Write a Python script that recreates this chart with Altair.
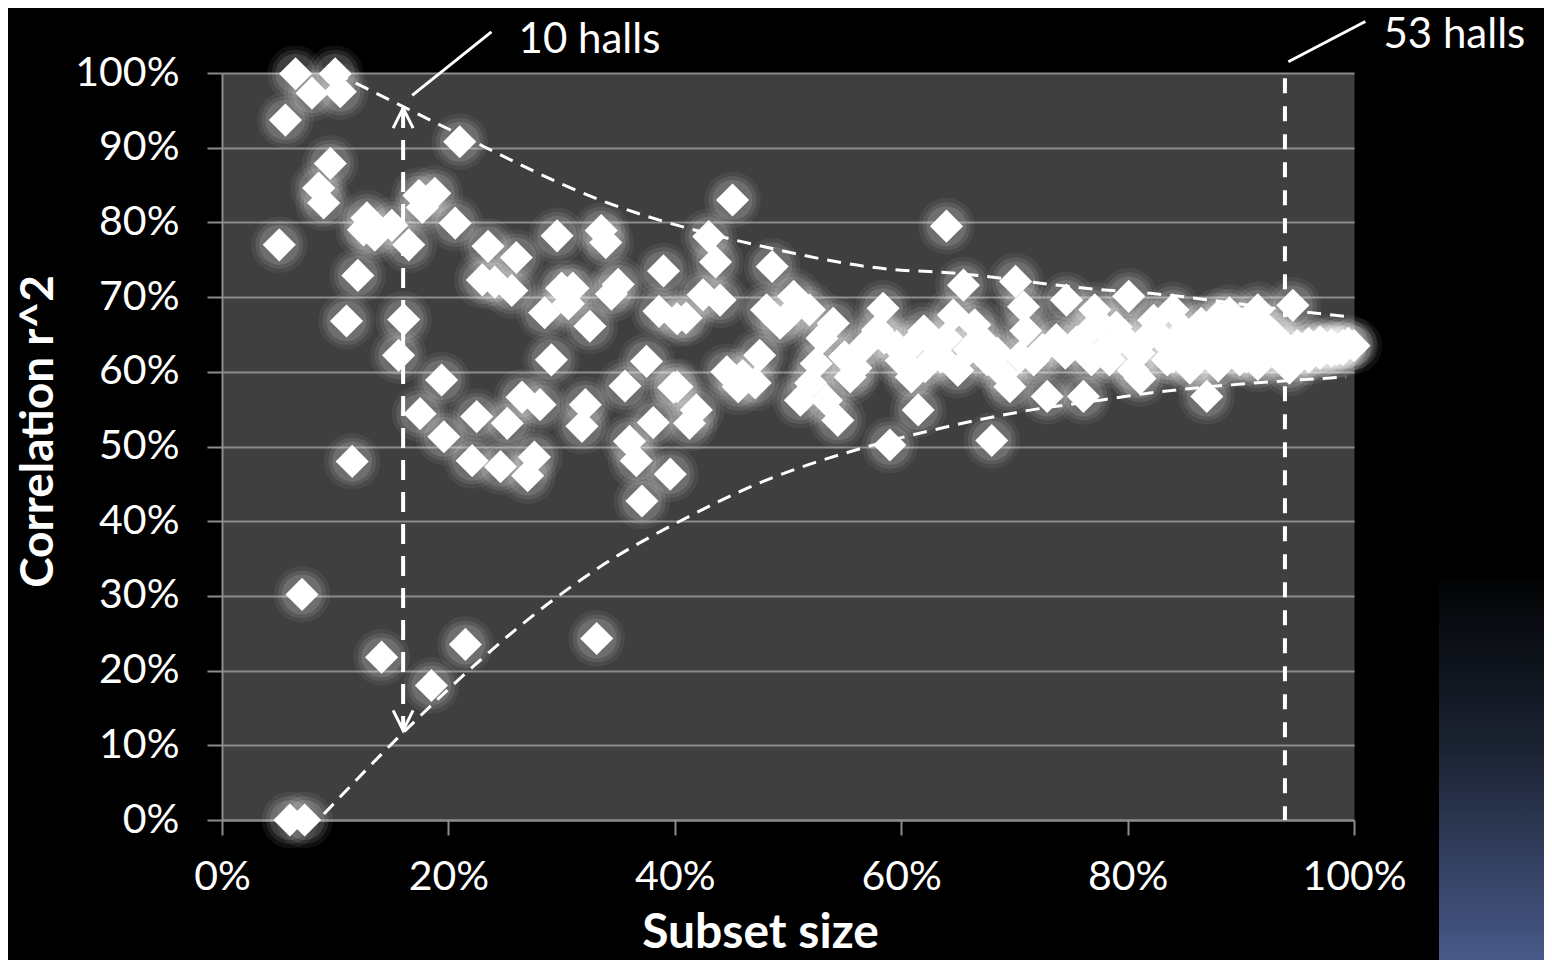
import altair as alt
import pandas as pd

# ---- scatter points: subset size (%) and correlation r^2 (%) ----
subset_pct = [
    6.5, 7.95, 10.0, 10.45, 5.6, 9.57, 8.54, 8.98, 5.06, 12.8, 12.5, 13.5, 15.0, 16.5,
    17.4, 18.8, 17.7, 12.0, 11.0, 16.05, 15.6, 19.4, 17.5, 19.6, 11.5, 7.07, 14.1, 18.5,
    6.0, 7.3,
    21.0, 20.6, 23.5, 26.0, 24.1, 25.6, 23.0, 29.6, 33.5, 33.9, 30.0, 31.0, 30.6, 28.5,
    32.5, 35.0, 34.4, 39.0, 38.6, 40.2, 29.1, 22.5, 25.2, 26.5, 28.1, 32.1, 31.8, 22.1,
    24.6, 27.6, 27.0, 37.5, 35.6, 39.9, 38.1, 36.0, 36.6, 39.6, 37.1, 21.5, 33.1,
    45.1, 43.0, 43.6, 48.6, 42.5, 44.0, 41.0, 48.1, 50.5, 49.3, 51.9, 54.0, 53.0, 52.5,
    58.4, 57.9, 56.7, 55.5, 59.6, 60.9, 47.5, 44.6, 47.1, 45.6, 40.2, 41.9, 41.3, 51.1,
    53.4, 54.4, 59.0, 46.0, 50.0, 55.0, 56.0, 58.5, 52.0,
    64.0, 65.5, 70.1, 70.8, 64.6, 66.5, 74.6, 77.1, 80.1, 61.1, 63.0, 62.1, 65.0, 67.6,
    69.0, 71.7, 73.7, 76.4, 78.4, 76.8, 72.9, 76.1, 69.6, 61.5, 68.0, 80.5,
    60.0, 63.5, 66.0, 68.5, 70.5, 72.5, 74.5, 75.5, 79.0, 71.0, 64.0, 77.5, 62.0, 67.0,
    94.6, 91.5, 89.0, 88.0, 84.0, 82.3, 87.0, 81.1, 83.5, 94.3, 89.9, 100.0,
    85.0, 86.0, 87.0, 88.0, 89.0, 90.0, 90.5, 91.0, 92.0, 93.0, 93.5, 94.0, 95.0, 96.0,
    96.5, 97.0, 97.5, 98.0, 98.5, 99.0, 99.5, 85.0, 86.5, 88.5, 89.5, 91.0, 92.5, 84.0,
    83.0, 82.0, 81.0, 80.0, 79.0, 78.0, 85.5, 88.0, 91.5, 95.0, 96.0, 97.0, 98.0, 99.0,
    92.0, 93.0, 90.0, 86.0, 84.5, 87.5,
]
r2_pct = [
    99.9, 97.3, 99.9, 97.5, 93.7, 87.9, 84.6, 82.6, 77.0, 80.6, 79.0, 78.3, 79.6, 77.0,
    83.6, 83.9, 82.0, 72.9, 66.8, 67.0, 62.2, 58.9, 54.4, 51.3, 48.0, 30.2, 21.8, 18.0,
    0.0, 0.0,
    90.8, 79.9, 76.8, 75.3, 72.0, 70.9, 72.3, 78.2, 78.9, 77.3, 71.2, 71.2, 69.1, 67.9,
    66.1, 71.7, 70.4, 73.5, 68.1, 67.1, 61.6, 54.0, 53.1, 56.6, 55.6, 55.6, 52.7, 48.1,
    47.3, 48.6, 46.1, 61.4, 58.1, 57.9, 53.2, 50.7, 48.1, 46.3, 42.7, 23.5, 24.3,
    83.0, 78.1, 74.7, 74.1, 70.3, 69.6, 67.2, 68.3, 70.1, 66.5, 68.3, 66.5, 64.5, 61.1,
    68.5, 65.6, 63.4, 59.3, 63.4, 59.3, 62.2, 60.0, 58.5, 58.0, 58.0, 54.9, 53.1, 56.2,
    56.2, 53.5, 50.2, 59.5, 67.5, 62.0, 60.5, 64.5, 58.5,
    79.5, 71.6, 72.1, 68.7, 67.6, 66.3, 69.6, 68.3, 70.1, 63.8, 63.6, 60.7, 60.2, 61.6,
    59.8, 61.6, 64.3, 65.1, 61.6, 61.6, 56.7, 56.7, 58.0, 54.9, 50.8, 60.2,
    61.5, 62.0, 63.0, 62.5, 62.0, 63.0, 62.5, 64.0, 64.0, 65.5, 64.5, 66.5, 65.5, 64.5,
    68.9, 68.3, 67.9, 67.4, 68.3, 66.9, 56.7, 59.1, 61.6, 60.5, 61.6, 63.5,
    63.5, 64.5, 62.5, 63.0, 64.0, 63.0, 62.0, 64.5, 63.5, 62.5, 64.0, 63.0, 63.5, 63.8,
    62.8, 64.0, 63.2, 63.6, 63.0, 63.5, 63.8, 65.5, 66.5, 66.0, 65.0, 66.5, 65.5, 62.0,
    64.5, 65.0, 62.5, 64.0, 66.0, 63.0, 60.5, 60.8, 61.0, 61.8, 62.0, 62.5, 62.8, 63.0,
    62.0, 64.8, 65.5, 61.5, 64.0, 65.0,
]

# ---- dashed envelope curves ----
upper_x = [10.0, 16.0, 20.0, 33.4, 48.0, 60.0, 62.8, 77.6, 82.0, 94.0, 99.3]
upper_y = [100.0, 95.5, 92.5, 83.0, 76.7, 73.6, 73.4, 71.0, 70.5, 68.3, 67.4]
lower_x = [9.0, 16.0, 29.2, 33.4, 40.7, 48.1, 56.6, 62.8, 71.1, 77.6, 80.2, 94.0, 99.3]
lower_y = [0.8, 11.7, 29.4, 33.9, 40.2, 45.5, 49.8, 52.2, 54.8, 56.2, 56.8, 58.8, 59.3]

# ---- annotations ----
arrow_x = 16.0
arrow_top, arrow_bottom = 95.3, 12.0
halls53_x = 93.9
halls53_top = 99.3
label_text = ["10 halls", "53 halls"]
label_x = [26.2, 102.6]
label_y = [104.4, 105.1]
leader_x1 = [16.8, 94.2]
leader_y1 = [97.0, 101.5]
leader_x2 = [23.8, 101.0]
leader_y2 = [105.5, 106.9]

x_ticks = [0, 0.2, 0.4, 0.6, 0.8, 1.0]
y_ticks = [i / 10 for i in range(11)]

FONT = "Lato"
GRID = "#8c8c8c"

pts = pd.DataFrame({"x": [v / 100 for v in subset_pct], "y": [v / 100 for v in r2_pct]})
up = pd.DataFrame({"x": [v / 100 for v in upper_x], "y": [v / 100 for v in upper_y]})
lo = pd.DataFrame({"x": [v / 100 for v in lower_x], "y": [v / 100 for v in lower_y]})
arrow = pd.DataFrame({"x": [arrow_x / 100], "y": [arrow_top / 100], "y2": [arrow_bottom / 100]})
heads_up = pd.DataFrame({"x": [arrow_x / 100], "y": [arrow_top / 100]})
heads_dn = pd.DataFrame({"x": [arrow_x / 100], "y": [arrow_bottom / 100]})
vline = pd.DataFrame({"x": [halls53_x / 100], "y": [halls53_top / 100], "y2": [0.0]})
labels = pd.DataFrame({"t": label_text, "x": [v / 100 for v in label_x], "y": [v / 100 for v in label_y]})
leaders = pd.DataFrame({
    "x": [v / 100 for v in leader_x1], "y": [v / 100 for v in leader_y1],
    "x2": [v / 100 for v in leader_x2], "y2": [v / 100 for v in leader_y2],
})


def X(field="x"):
    return alt.X(
        f"{field}:Q",
        scale=alt.Scale(domain=[0, 1], nice=False, zero=False),
        axis=alt.Axis(
            values=x_ticks, format=".0%", grid=False, title="Subset size",
            titleX=538, titleY=113, titleBaseline="middle", labelFlush=False,
            titleFontSize=48,
        ),
    )


def Y(field="y"):
    return alt.Y(
        f"{field}:Q",
        scale=alt.Scale(domain=[0, 1], nice=False, zero=False),
        axis=alt.Axis(
            values=y_ticks, format=".0%", grid=True, title="Correlation r^2",
            titleX=-184, titleY=358, titleAngle=-90, titleBaseline="middle",
            titleAlign="center", titleFontSize=46,
        ),
    )


dash_curve = dict(color="white", strokeWidth=3, strokeDash=[14, 9], interpolate="monotone")

layers = [
    alt.Chart(up).mark_line(**dash_curve).encode(x=X(), y=Y()),
    alt.Chart(lo).mark_line(**dash_curve).encode(x=X(), y=Y()),
    alt.Chart(arrow).mark_rule(color="white", strokeWidth=4, strokeDash=[20, 12]).encode(
        x=X(), y=Y(), y2="y2:Q"),
    alt.Chart(heads_up).mark_point(shape="M-0.5,1L0,0L0.5,1", filled=False, color="white",
                                   strokeWidth=3, size=1600, opacity=1).encode(x=X(), y=Y()),
    alt.Chart(heads_dn).mark_point(shape="M-0.5,-1L0,0L0.5,-1", filled=False, color="white",
                                   strokeWidth=3, size=1600, opacity=1).encode(x=X(), y=Y()),
    alt.Chart(vline).mark_rule(color="white", strokeWidth=4, strokeDash=[15, 13]).encode(
        x=X(), y=Y(), y2="y2:Q"),
    alt.Chart(pts).mark_point(shape="circle", filled=True, color="white", opacity=0.06,
                              size=3200).encode(x=X(), y=Y()),
    alt.Chart(pts).mark_point(shape="circle", filled=True, color="white", opacity=0.09,
                              size=2300).encode(x=X(), y=Y()),
    alt.Chart(pts).mark_point(shape="circle", filled=True, color="white", opacity=0.12,
                              size=1600).encode(x=X(), y=Y()),
    alt.Chart(pts).mark_point(shape="diamond", filled=True, color="white", opacity=1,
                              size=1100).encode(x=X(), y=Y()),
    alt.Chart(leaders).mark_rule(color="white", strokeWidth=3).encode(
        x=X(), y=Y(), x2="x2:Q", y2="y2:Q"),
    alt.Chart(labels).mark_text(color="white", font=FONT, fontSize=42, align="left",
                                baseline="middle").encode(x=X(), y=Y(), text="t:N"),
    alt.Chart(pd.DataFrame({"a": [0]})).mark_rect(
        color=alt.Gradient(
            gradient="linear", x1=0, x2=0, y1=0, y2=1,
            stops=[alt.GradientStop(color="#020304", offset=0),
                   alt.GradientStop(color="#1c2434", offset=0.45),
                   alt.GradientStop(color="#4a5b8c", offset=1)],
        )
    ).encode(x=alt.value(1217), x2=alt.value(1340), y=alt.value(505), y2=alt.value(895)),
]

chart = alt.layer(*layers).properties(
    width=1132,
    height=747,
    padding={"left": 214, "top": 65, "right": 190, "bottom": 140},
    autosize=alt.AutoSizeParams(type="none"),
    background="black",
).configure_view(
    fill="#3f3f3f", stroke="transparent"
).configure_axis(
    labelFont=FONT, labelFontSize=41, labelColor="white",
    titleFont=FONT, titleFontWeight="bold", titleColor="white",
    domainColor=GRID, domainWidth=2, tickColor=GRID, tickWidth=2, tickSize=15,
    gridColor=GRID, gridWidth=2,
).configure_axisY(
    labelPadding=28,
).configure_axisX(
    labelPadding=22,
)

chart.save("out.html", embed_options={"renderer": "svg", "actions": False})
